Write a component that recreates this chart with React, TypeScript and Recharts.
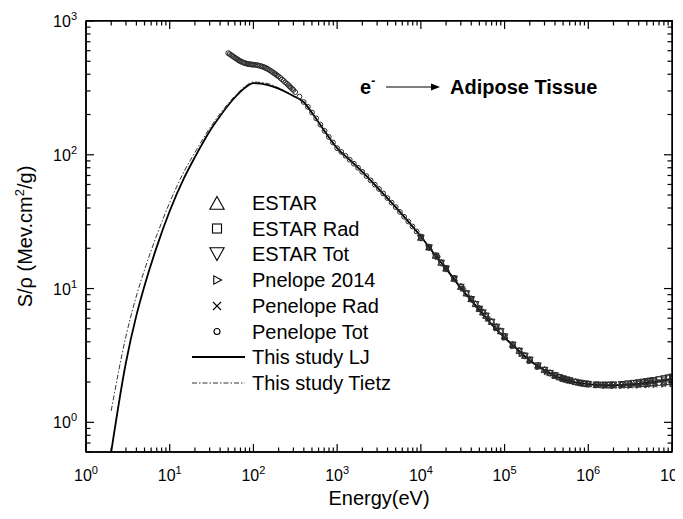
import React from "react";
import { ComposedChart, Line, Scatter, XAxis, YAxis, Legend } from "recharts";

const FONT = "'Liberation Sans', Arial, Helvetica, sans-serif";

// axis ticks
const xMajorTicks = [1, 10, 100, 1e3, 1e4, 1e5, 1e6, 1e7];
const yMajorTicks = [1, 10, 100, 1000];
const minorSteps = [2, 3, 4, 5, 6, 7, 8, 9];
const yLowMinor = [0.6, 0.7, 0.8, 0.9];
const xDomain = [1, 1e7];
const yDomain = [0.6, 1000];

// This study (LJ / Tietz) - energy in eV, S/rho in MeV cm2/g
const modelEnergy = [2, 3, 4, 5, 7, 10, 15, 20, 30, 40, 60, 80, 100, 150, 200, 250, 300, 400, 500, 700,
  1e3, 1.5e3, 2e3, 3e3, 5e3, 7e3, 1e4, 1.5e4, 2e4, 3e4, 5e4, 7e4, 1e5, 1.5e5, 2e5, 3e5, 5e5, 7e5, 1e6, 1.5e6,
  2e6, 3e6, 5e6, 7e6, 1e7];
const ljStopping = [0.6, 2.8, 6.3, 10.5, 20.5, 38, 68, 96, 150, 195, 268, 318, 343, 332, 312, 292, 275, 247, 206, 152,
  112, 88.5, 74.4, 57.2, 40.6, 31.9, 24.5, 17.6, 14.1, 10.1, 6.95, 5.4, 4.3, 3.4, 2.9, 2.45, 2.1, 1.99, 1.93, 1.895,
  1.895, 1.915, 1.97, 2.03, 2.1];
const tietzStopping = [1.22, 4.4, 8.8, 13.8, 25, 44, 76, 104, 158, 203, 275, 325, 350, 340, 316, 294, 276, 248, 206, 152,
  112, 88.5, 74.4, 57.2, 40.6, 31.9, 24.5, 17.6, 14.1, 10.1, 6.95, 5.4, 4.3, 3.4, 2.9, 2.45, 2.1, 1.99, 1.93, 1.895,
  1.895, 1.915, 1.97, 2.03, 2.1];

// ESTAR (energies in keV)
const estarEnergyKeV = [10, 12.5, 15, 17.5, 20, 25, 30, 35, 40, 45, 50, 55, 60, 70, 80, 90, 100, 125, 150, 175,
  200, 250, 300, 350, 400, 450, 500, 550, 600, 700, 800, 900, 1000, 1250, 1500, 1750, 2000, 2500, 3000, 3500,
  4000, 4500, 5000, 5500, 6000, 7000, 8000, 9000, 10000];
const estarCol = [24.0, 20.3, 17.6, 15.6, 14.1, 11.85, 10.3, 9.2, 8.33, 7.65, 7.06, 6.63, 6.26, 5.64, 5.17, 4.79, 4.38, 3.8, 3.42, 3.14,
  2.93, 2.65, 2.46, 2.33, 2.24, 2.17, 2.12, 2.08, 2.05, 2.0, 1.965, 1.94, 1.925, 1.9, 1.89, 1.888, 1.888, 1.895, 1.905, 1.915,
  1.925, 1.935, 1.945, 1.953, 1.96, 1.975, 1.987, 1.998, 2.008];
const estarTot = [24.0, 20.3, 17.6, 15.6, 14.1, 11.86, 10.31, 9.21, 8.34, 7.66, 7.07, 6.64, 6.27, 5.65, 5.18, 4.8, 4.39, 3.81, 3.43, 3.15,
  2.94, 2.66, 2.47, 2.34, 2.25, 2.18, 2.13, 2.09, 2.06, 2.01, 1.976, 1.952, 1.938, 1.917, 1.911, 1.913, 1.918, 1.934, 1.953, 1.972,
  1.991, 2.011, 2.031, 2.048, 2.065, 2.1, 2.132, 2.163, 2.193];

// Penelope (eV)
const penHumpEnergy = [50, 52, 54, 56, 58, 60, 62, 64, 66, 68, 70, 73, 76, 79, 82, 85, 88, 91, 94, 97,
  100, 105, 110, 115, 120, 125, 130, 135, 140, 145, 150, 157, 164, 171, 178, 185, 192, 200, 210, 220,
  230, 240, 250, 260, 270, 280, 290, 300];
const penHumpTot = [575, 566, 557, 548, 540, 532, 525, 518, 511, 505, 500, 494, 488, 484, 481, 478, 476, 474.5, 473.5, 472,
  471, 470, 468, 465, 462, 459, 455, 451, 446, 441, 436, 428, 421, 413, 406, 399, 392, 385, 375, 366,
  357, 348, 340, 333, 325, 318, 311, 305];
const penMidEnergy = [316, 355, 398, 447, 501, 562, 631, 708, 794, 891, 1000, 1122, 1259, 1413, 1585, 1778, 1995, 2239, 2512, 2818,
  3162, 3548, 3981, 4467, 5012, 5623, 6310, 7079, 7943, 8913];
const penMidTot = [294, 272, 248, 228, 207, 187, 168, 151, 136, 123.5, 112, 105, 98.2, 91.8, 85.7, 79.9, 74.5, 69.3, 64.4, 59.8,
  55.5, 51.4, 47.5, 43.9, 40.6, 37.4, 34.4, 31.7, 29.1, 26.7];
const penHighEnergy = [1e4, 1.26e4, 1.58e4, 2e4, 2.51e4, 3.16e4, 3.98e4, 5.01e4, 6.31e4, 7.94e4,
  1e5, 1.26e5, 1.58e5, 2e5, 2.51e5, 3.16e5, 3.98e5, 5.01e5, 6.31e5, 7.94e5,
  1e6, 1.26e6, 1.58e6, 2e6, 2.51e6, 3.16e6, 3.98e6, 5.01e6, 6.31e6, 7.94e6, 1e7];
const penHighTot = [24.5, 20.5, 17.3, 14.3, 12.0, 10.0, 8.4, 7.05, 5.95, 5.05,
  4.3, 3.72, 3.25, 2.88, 2.6, 2.39, 2.23, 2.12, 2.04, 1.98,
  1.94, 1.915, 1.905, 1.905, 1.915, 1.935, 1.96, 1.99, 2.03, 2.07, 2.12];
const penHighCol = [24.4, 20.4, 17.2, 14.25, 11.95, 9.97, 8.38, 7.03, 5.93, 5.03,
  4.28, 3.7, 3.23, 2.86, 2.58, 2.37, 2.21, 2.1, 2.02, 1.96,
  1.915, 1.885, 1.87, 1.862, 1.862, 1.868, 1.876, 1.886, 1.898, 1.91, 1.925];

const xTicks = [...xMajorTicks, ...xMajorTicks.slice(0, -1).flatMap((d) => minorSteps.map((m) => m * d))].sort((a, b) => a - b);
const yTicks = [...yLowMinor, ...yMajorTicks, ...yMajorTicks.slice(0, -1).flatMap((d) => minorSteps.map((m) => m * d))].sort((a, b) => a - b);

const pts = (e: number[], s: number[]) => e.map((x, i) => ({ e: x, s: s[i] }));
const ljData = pts(modelEnergy, ljStopping);
const tietzData = pts(modelEnergy, tietzStopping);
const estarE = estarEnergyKeV.map((k) => k * 1000);
const estarData = pts(estarE, estarCol);
const estarRadData = pts(estarE, estarTot);
const estarTotData = pts(estarE, estarTot);
const pen2014Data = pts(penHighEnergy, penHighCol);
const penRadData = pts(penHighEnergy, penHighCol);
const penTotData = pts([...penHumpEnergy, ...penMidEnergy, ...penHighEnergy], [...penHumpTot, ...penMidTot, ...penHighTot]);

const W = 675;
const H = 503;
const TOP = 13;
const BOTTOM_H = 59;
const LEFT_W = 78;
const RIGHT_W = 11;
const PLOT_W = W - LEFT_W - RIGHT_W;
const PLOT_H = H - TOP - BOTTOM_H;
const MK = "#2a2a2a";

const exp10 = (v: number) => Math.round(Math.log10(v));
const tickLen = (major: boolean) => (major ? 8 : 4.5);

// positions for the mirrored (top / right) frame ticks, same log mapping as the axes
const frameX = (v: number) => LEFT_W + (PLOT_W * (Math.log10(v) - Math.log10(xDomain[0]))) / (Math.log10(xDomain[1]) - Math.log10(xDomain[0]));
const frameY = (v: number) => TOP + (PLOT_H * (Math.log10(yDomain[1]) - Math.log10(v))) / (Math.log10(yDomain[1]) - Math.log10(yDomain[0]));

function BottomTick(props: any) {
  const x = Number(props.x);
  const y = Number(props.y);
  const v = props.payload.value;
  const major = xMajorTicks.includes(v);
  return (
    <g>
      <line x1={x} x2={x} y1={y} y2={y - tickLen(major)} stroke="#000" strokeWidth={1.2} />
      {major && (
        <text x={x} y={y + 29} textAnchor="middle" fontSize={16} fontFamily={FONT} fill="#000">
          10<tspan dy={-7} fontSize={11}>{exp10(v)}</tspan>
        </text>
      )}
    </g>
  );
}

function LeftTick(props: any) {
  const x = Number(props.x);
  const y = Number(props.y);
  const v = props.payload.value;
  const major = yMajorTicks.includes(v);
  return (
    <g>
      <line x1={x} x2={x + tickLen(major)} y1={y} y2={y} stroke="#000" strokeWidth={1.2} />
      {major && (
        <text x={x - 9} y={y + 6} textAnchor="end" fontSize={16} fontFamily={FONT} fill="#000">
          10<tspan dy={-7} fontSize={11}>{exp10(v)}</tspan>
        </text>
      )}
    </g>
  );
}

function XTitle(props: any) {
  const { viewBox } = props;
  const cx = viewBox.x + viewBox.width / 2;
  return (
    <text x={cx} y={viewBox.y + 53} textAnchor="middle" fontSize={20} fontFamily={FONT} fill="#000">
      Energy(eV)
    </text>
  );
}

function YTitle(props: any) {
  const { viewBox } = props;
  const cx = 24;
  const cy = viewBox.y + viewBox.height / 2;
  return (
    <text x={cx} y={cy} textAnchor="middle" fontSize={20} fontFamily={FONT} fill="#000" transform={`rotate(-90, ${cx}, ${cy})`}>
      S/ρ (Mev.cm<tspan dy={-8} fontSize={13}>2</tspan><tspan dy={8}>/g)</tspan>
    </text>
  );
}

// marker shapes
const triUp = (cx: number, cy: number, r: number) => `M${cx},${cy - r} L${cx + r * 0.95},${cy + r * 0.7} L${cx - r * 0.95},${cy + r * 0.7} Z`;
const triDown = (cx: number, cy: number, r: number) => `M${cx},${cy + r} L${cx + r * 0.95},${cy - r * 0.7} L${cx - r * 0.95},${cy - r * 0.7} Z`;
const triRight = (cx: number, cy: number, r: number) => `M${cx + r},${cy} L${cx - r * 0.7},${cy - r * 0.9} L${cx - r * 0.7},${cy + r * 0.9} Z`;

function UpMark(p: any) {
  return <path d={triUp(p.cx, p.cy, 3.6)} fill="none" stroke={MK} strokeWidth={0.9} />;
}
function DownMark(p: any) {
  return <path d={triDown(p.cx, p.cy, 3.6)} fill="none" stroke={MK} strokeWidth={0.9} />;
}
function SquareMark(p: any) {
  return <rect x={p.cx - 2.4} y={p.cy - 2.4} width={4.8} height={4.8} fill="none" stroke={MK} strokeWidth={0.9} />;
}
function RightMark(p: any) {
  return <path d={triRight(p.cx, p.cy, 2.8)} fill="none" stroke={MK} strokeWidth={0.9} />;
}
function CrossMark(p: any) {
  return <path d={`M${p.cx - 2.4},${p.cy - 2.4} L${p.cx + 2.4},${p.cy + 2.4} M${p.cx - 2.4},${p.cy + 2.4} L${p.cx + 2.4},${p.cy - 2.4}`} stroke={MK} strokeWidth={0.9} />;
}
function CircleMark(p: any) {
  return <circle cx={p.cx} cy={p.cy} r={2.4} fill="none" stroke={MK} strokeWidth={1} />;
}

const legendRows = [
  { label: "ESTAR", kind: "up" },
  { label: "ESTAR Rad", kind: "square" },
  { label: "ESTAR Tot", kind: "down" },
  { label: "Pnelope 2014", kind: "right" },
  { label: "Penelope Rad", kind: "cross" },
  { label: "Penelope Tot", kind: "circle" },
  { label: "This study LJ", kind: "solid" },
  { label: "This study Tietz", kind: "dashdot" },
];
const legendY = [195, 220.5, 246, 272, 298, 323.5, 349, 375];

function LegendSymbol({ kind, y }: { kind: string; y: number }) {
  const cx = 209;
  if (kind === "up") return <path d={triUp(cx, y + 1, 7.5)} fill="none" stroke="#000" strokeWidth={1.1} />;
  if (kind === "down") return <path d={triDown(cx, y - 1, 7.5)} fill="none" stroke="#000" strokeWidth={1.1} />;
  if (kind === "square") return <rect x={cx - 4.5} y={y - 4.5} width={9} height={9} fill="none" stroke="#000" strokeWidth={1.1} />;
  if (kind === "right") return <path d={triRight(cx, y, 4.6)} fill="none" stroke="#000" strokeWidth={1.1} />;
  if (kind === "cross") return <path d={`M${cx - 4},${y - 4} L${cx + 4},${y + 4} M${cx - 4},${y + 4} L${cx + 4},${y - 4}`} stroke="#000" strokeWidth={1.1} />;
  if (kind === "circle") return <circle cx={cx} cy={y} r={3} fill="none" stroke="#000" strokeWidth={1.1} />;
  if (kind === "solid") return <line x1={184} x2={237} y1={y} y2={y} stroke="#000" strokeWidth={2} />;
  return <line x1={184} x2={237} y1={y} y2={y} stroke="#333" strokeWidth={1} strokeDasharray="5 2 1.5 2" />;
}

// legend, annotation and the mirrored ticks on the top / right frame
function Overlay() {
  return (
    <svg width={W} height={H} style={{ display: "block", overflow: "visible" }}>
      <rect x={LEFT_W} y={TOP} width={PLOT_W} height={PLOT_H} fill="none" stroke="#000" strokeWidth={1.5} />
      {xTicks.map((v) => (
        <line key={`tx${v}`} x1={frameX(v)} x2={frameX(v)} y1={TOP} y2={TOP + tickLen(xMajorTicks.includes(v))} stroke="#000" strokeWidth={1.2} />
      ))}
      {yTicks.map((v) => (
        <line key={`ry${v}`} x1={LEFT_W + PLOT_W} x2={LEFT_W + PLOT_W - tickLen(yMajorTicks.includes(v))} y1={frameY(v)} y2={frameY(v)} stroke="#000" strokeWidth={1.2} />
      ))}
      {legendRows.map((r, i) => (
        <g key={r.label}>
          <LegendSymbol kind={r.kind} y={legendY[i]} />
          <text x={244} y={legendY[i] + 7} fontSize={20} fontFamily={FONT} fill="#000">
            {r.label}
          </text>
        </g>
      ))}
      <text x={352} y={86} fontSize={20} fontWeight="bold" fontFamily={FONT} fill="#000">
        e<tspan dy={-9} fontSize={12}>-</tspan>
      </text>
      <line x1={378} x2={430} y1={79} y2={79} stroke="#000" strokeWidth={1} />
      <path d="M432,79 L423,75.5 L423,82.5 Z" fill="#000" />
      <text x={442} y={86} fontSize={20} fontWeight="bold" fontFamily={FONT} fill="#000">
        Adipose Tissue
      </text>
    </svg>
  );
}

const axisLine = { stroke: "#000", strokeWidth: 1.5 };

export default function App() {
  return (
    <div style={{ position: "relative", width: W, height: H, background: "#fff" }}>
      <style>{"html, body { overflow: hidden; }"}</style>
      <ComposedChart width={W} height={H} margin={{ top: TOP, right: RIGHT_W, bottom: 0, left: 0 }}>
        <XAxis xAxisId="b" dataKey="e" type="number" scale="log" domain={xDomain} allowDataOverflow ticks={xTicks}
          interval={0} tickSize={0} tickMargin={0} tickLine={false} axisLine={axisLine} tick={<BottomTick />} height={BOTTOM_H}
          label={<XTitle />} />
        <YAxis yAxisId="l" dataKey="s" type="number" scale="log" domain={yDomain} allowDataOverflow ticks={yTicks}
          interval={0} tickSize={0} tickMargin={0} tickLine={false} axisLine={axisLine} tick={<LeftTick />} width={LEFT_W}
          label={<YTitle />} />
        <Line xAxisId="b" yAxisId="l" data={tietzData} dataKey="s" type="monotone" stroke="#333" strokeWidth={1}
          strokeDasharray="5 2 1.5 2" dot={false} isAnimationActive={false} />
        <Line xAxisId="b" yAxisId="l" data={ljData} dataKey="s" type="monotone" stroke="#000" strokeWidth={1.8}
          dot={false} isAnimationActive={false} />
        <Scatter xAxisId="b" yAxisId="l" data={penTotData} dataKey="s" shape={CircleMark} isAnimationActive={false} />
        <Scatter xAxisId="b" yAxisId="l" data={pen2014Data} dataKey="s" shape={RightMark} isAnimationActive={false} />
        <Scatter xAxisId="b" yAxisId="l" data={penRadData} dataKey="s" shape={CrossMark} isAnimationActive={false} />
        <Scatter xAxisId="b" yAxisId="l" data={estarData} dataKey="s" shape={UpMark} isAnimationActive={false} />
        <Scatter xAxisId="b" yAxisId="l" data={estarRadData} dataKey="s" shape={SquareMark} isAnimationActive={false} />
        <Scatter xAxisId="b" yAxisId="l" data={estarTotData} dataKey="s" shape={DownMark} isAnimationActive={false} />
        <Legend layout="vertical" align="center" verticalAlign="middle" content={() => <Overlay />}
          wrapperStyle={{ left: 0, top: 0, width: W, height: H, pointerEvents: "none" }} />
      </ComposedChart>
      {/* plain CSS border as a fallback for the top and right frame edges */}
      <div style={{ position: "absolute", left: LEFT_W, top: TOP - 0.75, width: PLOT_W + 0.75, height: PLOT_H,
        borderTop: "1.5px solid #000", borderRight: "1.5px solid #000", boxSizing: "border-box", pointerEvents: "none" }} />
    </div>
  );
}
